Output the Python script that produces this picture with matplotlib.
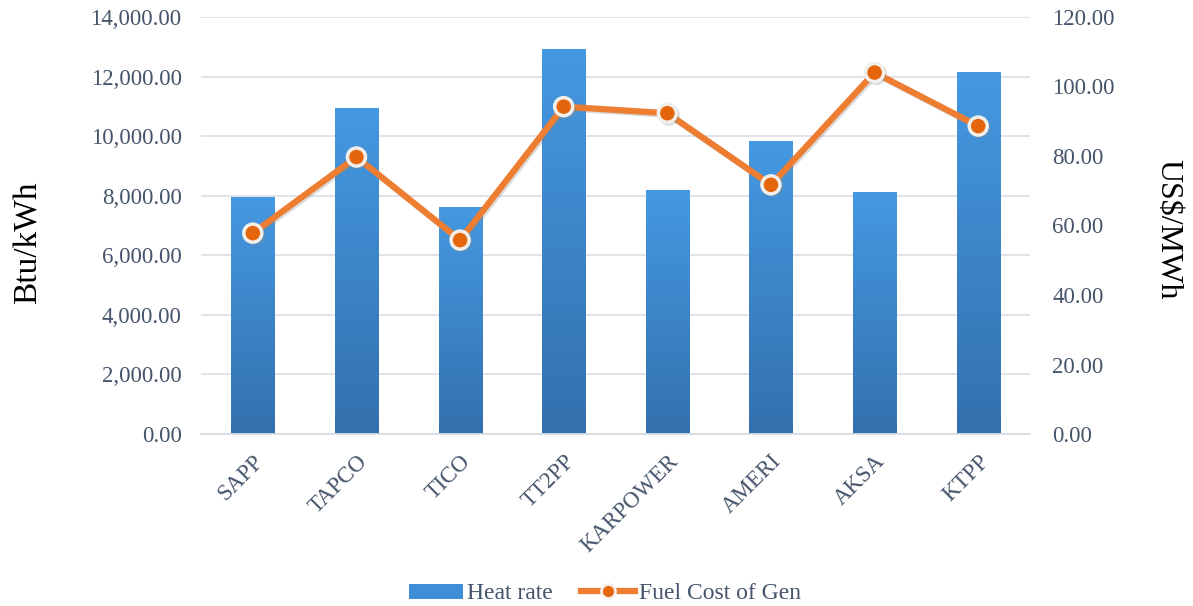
import matplotlib
matplotlib.use("Agg")
import matplotlib.pyplot as plt
import numpy as np
from matplotlib import patheffects as pe
from matplotlib.patches import Rectangle
from matplotlib.lines import Line2D
from matplotlib.colors import LinearSegmentedColormap

categories = ["SAPP", "TAPCO", "TICO", "TT2PP", "KARPOWER", "AMERI", "AKSA", "KTPP"]
heat_rate = [7960, 10940, 7630, 12930, 8190, 9830, 8120, 12150]
fuel_cost = [57.8, 79.7, 55.8, 94.2, 92.3, 71.7, 104.0, 88.6]
left_ticks = [0, 2000, 4000, 6000, 8000, 10000, 12000, 14000]
right_ticks = [0, 20, 40, 60, 80, 100, 120]

TXT = "#44546A"
FONT = "Liberation Serif"
plt.rcParams["font.family"] = [FONT, "DejaVu Serif"]

fig = plt.figure(figsize=(11.93, 6.06), dpi=100)
ax = fig.add_axes([0.1685, 0.2838, 0.6949, 0.6882])
ax2 = ax.twinx()

x = np.arange(len(categories))
bw = 0.415
bars = ax.bar(x, heat_rate, width=bw, color="#3F8FD8", zorder=2)
grad = np.linspace(0, 1, 256).reshape(-1, 1)
cmap = LinearSegmentedColormap.from_list("g", ["#3370AD", "#4599E2"])
for b in bars:
    x0, w, h = b.get_x(), b.get_width(), b.get_height()
    im = ax.imshow(grad, cmap=cmap, aspect="auto", origin="lower",
                   extent=[x0, x0 + w, 0, h], zorder=2.1)
    im.set_clip_path(b)

ax.set_xlim(-0.5, len(categories) - 0.5)
ax.set_ylim(0, 14000)
ax.set_yticks(left_ticks)
ax.set_yticklabels([f"{v:,.2f}" for v in left_ticks])
ax.yaxis.grid(True, color="#DDE1E7", linewidth=1.3, zorder=0)
ax.set_axisbelow(True)
for s in ax.spines.values():
    s.set_visible(False)
ax.spines["bottom"].set_visible(True)
ax.spines["bottom"].set_color("#D9DDE3")
ax.spines["bottom"].set_linewidth(1.3)
ax.tick_params(axis="both", length=0, labelcolor=TXT)
ax.tick_params(axis="y", pad=14, labelsize=16.5)
ax.set_xticks(x)
ax.set_xticklabels(categories, rotation=45, ha="right", va="top", rotation_mode="anchor")
ax.tick_params(axis="x", pad=12, labelsize=16.5)
ax.set_ylabel("Btu/kWh", fontsize=24, color="#000000", labelpad=34, y=0.458)

ax2.set_ylim(0, 120)
ax2.set_yticks(right_ticks)
ax2.set_yticklabels([f"{v:.2f}" for v in right_ticks])
for s in ax2.spines.values():
    s.set_visible(False)
ax2.tick_params(axis="y", length=0, labelsize=16.5, labelcolor=TXT, pad=16)
ax2.set_ylabel("US$/MWh", fontsize=23, color="#000000", rotation=270, labelpad=49, y=0.492)

shadow = [pe.SimpleLineShadow(offset=(1.2, -1.2), shadow_color="#888888", alpha=0.3), pe.Normal()]
ax2.plot(x, fuel_cost, color="#ED7D31", linewidth=4.5, zorder=3,
         marker="o", markersize=13, markerfacecolor="#E4650C",
         markeredgecolor="#F2EFEA", markeredgewidth=2.5, path_effects=shadow)

h_bar = Rectangle((0, 0), 1, 1, facecolor="#3F8FD8")
h_line = Line2D([], [], color="#ED7D31", linewidth=4.5, marker="o", markersize=10,
                markerfacecolor="#E4650C", markeredgecolor="#F2EFEA", markeredgewidth=2)
fig.legend([h_bar, h_line], ["Heat rate", "Fuel Cost of Gen"], loc="center",
           bbox_to_anchor=(0.507, 0.02), ncol=2, frameon=False, fontsize=17,
           labelcolor=TXT, handlelength=2.3, handleheight=0.6, columnspacing=1.2,
           handletextpad=0.15)

fig.savefig("out.png", dpi=100)
